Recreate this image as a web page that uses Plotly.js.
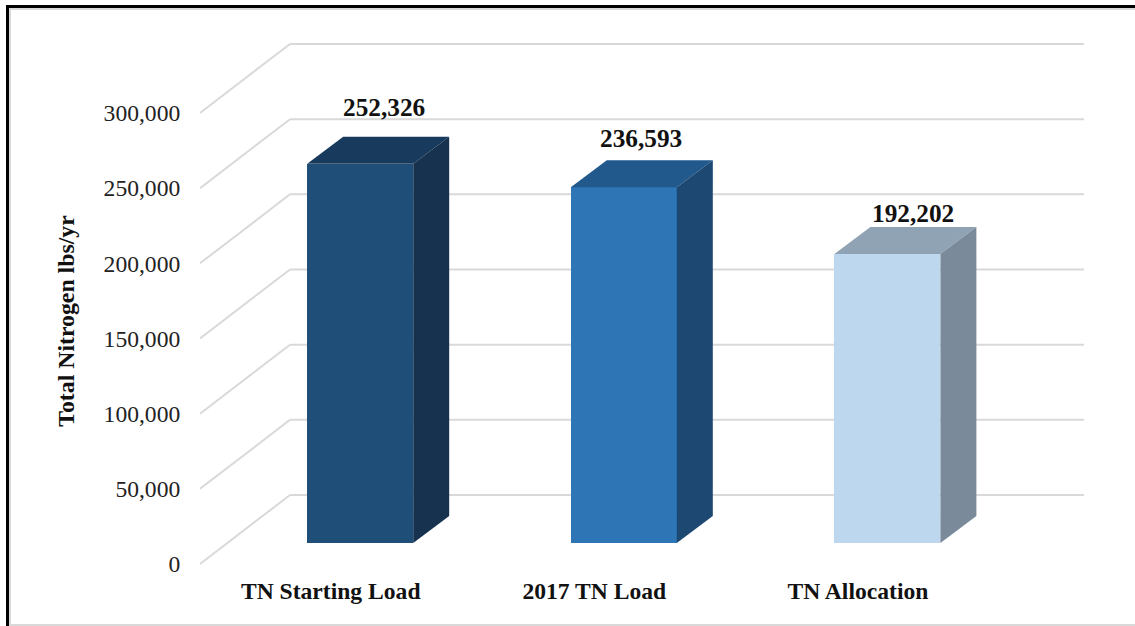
<!DOCTYPE html>
<html>
<head>
<meta charset="utf-8">
<script src="https://cdn.plot.ly/plotly-3.0.1.min.js"></script>
<style>
html,body{margin:0;padding:0;background:#fff;overflow:hidden}
#frame{position:absolute;left:6px;top:5px;width:1129px;height:621px;box-sizing:border-box;border-left:3px solid #000;border-top:3px solid #000;pointer-events:none;z-index:2}
#frame:after{content:"";position:absolute;left:0;top:0;right:0;bottom:0;border-left:2px solid #d9d9d9;border-top:2px solid #d9d9d9;border-bottom:2px solid #d9d9d9}
#chart{position:absolute;left:0;top:0;width:1135px;height:626px}
</style>
</head>
<body>
<div id="chart"></div>
<div id="frame"></div>
<script>
const categories = ["TN Starting Load", "2017 TN Load", "TN Allocation"];
const loads = [252326, 236593, 192202];
const yTicks = [0, 50000, 100000, 150000, 200000, 250000, 300000];
const frontColors = ["#1F4E79", "#2E75B6", "#BDD7EE"];
const topColors = ["#183A5C", "#21598C", "#8FA3B5"];
const sideColors = ["#16324F", "#1C4872", "#7A8A9A"];

// Geometry of the fake 3D box, in pixels per data unit
const pxPerY = 451 / 300000, pxPerCat = 263.6;
const catAt = 330.7, plotL = 200, plotR = 1084, plotT = 34, plotB = 608, zeroPx = 564;
const xRange = [(plotL - catAt) / pxPerCat, (plotR - catAt) / pxPerCat];
const yRange = [-(plotB - zeroPx) / pxPerY, (zeroPx - plotT) / pxPerY];
const wallDX = 90 / pxPerCat, wallDY = 69 / pxPerY;
const barDX = 36 / pxPerCat, barDY = 27 / pxPerY;
const barShift = 29.5 / pxPerCat, barW = 106 / pxPerCat, barBase = 21 / pxPerY;

const shapes = [];
yTicks.forEach(v => {
  const line = {color: "#D9D9D9", width: 2};
  shapes.push({type: "line", layer: "below", xref: "x", yref: "y", x0: xRange[0], y0: v, x1: xRange[0] + wallDX, y1: v + wallDY, line});
  shapes.push({type: "line", layer: "below", xref: "x", yref: "y", x0: xRange[0] + wallDX, y0: v + wallDY, x1: xRange[1], y1: v + wallDY, line});
});

const traces = [{
  type: "bar",
  x: categories.map((c, i) => i + barShift),
  y: loads,
  base: barBase,
  width: barW,
  marker: {color: frontColors, line: {width: 0}},
  hoverinfo: "skip",
  showlegend: false
}];
loads.forEach((v, i) => {
  const x0 = i + barShift - barW / 2, x1 = i + barShift + barW / 2;
  const yT = v + barBase;
  traces.push({
    type: "scatter", mode: "lines", fill: "toself", fillcolor: topColors[i],
    line: {width: 0}, hoverinfo: "skip", showlegend: false,
    x: [x0, x0 + barDX, x1 + barDX, x1, x0], y: [yT, yT + barDY, yT + barDY, yT, yT]
  });
  traces.push({
    type: "scatter", mode: "lines", fill: "toself", fillcolor: sideColors[i],
    line: {width: 0}, hoverinfo: "skip", showlegend: false,
    x: [x1, x1 + barDX, x1 + barDX, x1, x1], y: [yT, yT + barDY, barBase + barDY, barBase, yT]
  });
});

const labelNudgeX = [24, 17, 26], labelNudgeY = [30, 22, 14];
const annotations = loads.map((v, i) => ({
  xref: "x", yref: "y", x: i + barShift, y: v + barBase + barDY,
  xshift: labelNudgeX[i], yshift: labelNudgeY[i],
  text: "<b>" + v.toLocaleString("en-US") + "</b>", showarrow: false,
  font: {family: "Liberation Serif", size: 25.3, color: "#111"}
}));

Plotly.newPlot("chart", traces, {
  width: 1135, height: 626,
  margin: {l: plotL, r: 1135 - plotR, t: plotT, b: 626 - plotB, pad: 0},
  paper_bgcolor: "#fff", plot_bgcolor: "rgba(0,0,0,0)",
  showlegend: false, bargap: 0, shapes, annotations,
  xaxis: {
    range: xRange, tickmode: "array", tickvals: categories.map((c, i) => i),
    ticktext: categories.map(c => "<b>" + c + "</b>"), showgrid: false, zeroline: false, showline: false,
    ticks: "", ticklabelposition: "inside", ticklabelstandoff: 1,
    tickfont: {family: "Liberation Serif", size: 23.6, color: "#111"}
  },
  yaxis: {
    range: yRange, tickmode: "array", tickvals: yTicks,
    ticktext: yTicks.map(v => v.toLocaleString("en-US")),
    showgrid: false, zeroline: false, showline: false,
    ticks: "outside", ticklen: 14, tickcolor: "rgba(0,0,0,0)",
    tickfont: {family: "Liberation Serif", size: 23.6, color: "#222"},
    title: {text: "<b>Total Nitrogen lbs/yr</b>", font: {family: "Liberation Serif", size: 23.8, color: "#111"}, standoff: 22}
  }
}, {displayModeBar: false, staticPlot: true});
</script>
</body>
</html>
